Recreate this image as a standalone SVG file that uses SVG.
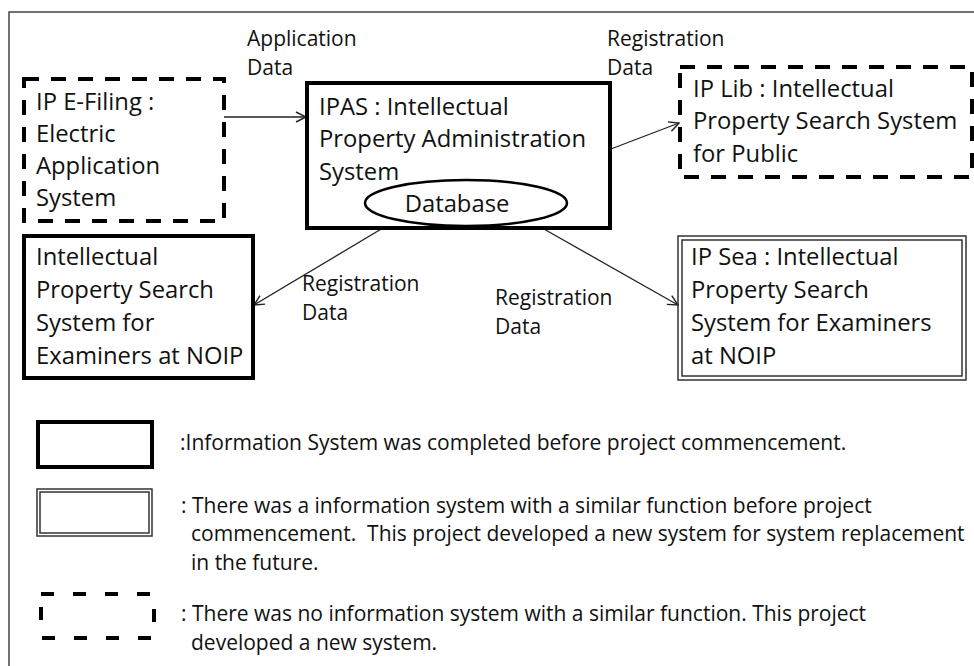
<svg xmlns="http://www.w3.org/2000/svg" width="974" height="666" viewBox="0 0 974 666">
<defs>
<style>
text{font-family:"Open Sans",Lato,"Liberation Sans",sans-serif;fill:#111}
.bt{font-size:23.8px}
.lb{font-size:21px}
.lg{font-size:21px}
.solid{fill:#fff;stroke:#000;stroke-width:4}
.dash{fill:none;stroke:#000;stroke-width:4;stroke-dasharray:15 12}
.dbl{fill:none;stroke:#333;stroke-width:1.5}
.conn{stroke:#222;stroke-width:1.3;fill:none;marker-end:url(#ah)}
</style>
<marker id="ah" viewBox="0 0 12 12" refX="11" refY="6" markerWidth="12" markerHeight="12" markerUnits="userSpaceOnUse" orient="auto">
<path d="M1,1 L11,6 L1,11" fill="none" stroke="#222" stroke-width="1.4"/>
</marker>
</defs>
<rect width="974" height="666" fill="#fff"/>
<path d="M9,666 V12 H974" fill="none" stroke="#444" stroke-width="1.5"/>

<g id="connectors">
<line class="conn" x1="224" y1="117" x2="306" y2="117"/>
<line class="conn" x1="527" y1="181" x2="679" y2="123"/>
<line class="conn" x1="393" y1="222" x2="254" y2="305"/>
<line class="conn" x1="528" y1="220" x2="678" y2="305"/>
</g>

<g id="labels">
<text class="lb" x="247" y="46">Application</text>
<text class="lb" x="247" y="75">Data</text>
<text class="lb" x="607" y="46">Registration</text>
<text class="lb" x="607" y="75">Data</text>
<text class="lb" x="302" y="291">Registration</text>
<text class="lb" x="302" y="320">Data</text>
<text class="lb" x="495" y="305">Registration</text>
<text class="lb" x="495" y="334">Data</text>
</g>

<g id="efiling">
<rect class="dash" x="24" y="79" width="200" height="142"/>
<text class="bt" x="36" y="110">IP E-Filing :</text>
<text class="bt" x="36" y="142">Electric</text>
<text class="bt" x="36" y="174">Application</text>
<text class="bt" x="36" y="206">System</text>
</g>

<g id="ipas">
<rect class="solid" x="307" y="83" width="303" height="145"/>
<text class="bt" x="319" y="115">IPAS : Intellectual</text>
<text class="bt" x="319" y="147">Property Administration</text>
<text class="bt" x="319" y="180">System</text>
</g>

<g id="database">
<ellipse cx="466" cy="203" rx="101" ry="23" fill="#fff" stroke="#000" stroke-width="2.5"/>
<text class="bt" x="457" y="212" text-anchor="middle">Database</text>
</g>

<g id="iplib">
<rect class="dash" x="680" y="67" width="292" height="110"/>
<text class="bt" x="693" y="97">IP Lib : Intellectual</text>
<text class="bt" x="693" y="129">Property Search System</text>
<text class="bt" x="693" y="162">for Public</text>
</g>

<g id="noip">
<rect class="solid" x="24" y="236" width="229" height="142"/>
<text class="bt" x="36" y="265">Intellectual</text>
<text class="bt" x="36" y="298">Property Search</text>
<text class="bt" x="36" y="331">System for</text>
<text class="bt" x="36" y="364">Examiners at NOIP</text>
</g>

<g id="ipsea">
<rect class="dbl" x="678" y="236" width="288" height="144"/>
<rect class="dbl" x="682" y="240" width="280" height="136"/>
<text class="bt" x="691" y="265">IP Sea : Intellectual</text>
<text class="bt" x="691" y="298">Property Search</text>
<text class="bt" x="691" y="331">System for Examiners</text>
<text class="bt" x="691" y="364">at NOIP</text>
</g>

<g id="legend">
<rect class="solid" x="38" y="422" width="114" height="45"/>
<rect class="dbl" x="37" y="489" width="115" height="47"/>
<rect class="dbl" x="40" y="492" width="109" height="41"/>
<rect x="41" y="594" width="113" height="44" fill="none" stroke="#000" stroke-width="4" stroke-dasharray="13 19"/>
<text class="lg" x="180" y="450">:Information System was completed before project commencement.</text>
<text class="lg" x="181" y="513">: There was a information system with a similar function before project</text>
<text class="lg" x="191" y="541" xml:space="preserve">commencement.  This project developed a new system for system replacement</text>
<text class="lg" x="191" y="570">in the future.</text>
<text class="lg" x="181" y="621">: There was no information system with a similar function. This project</text>
<text class="lg" x="191" y="650">developed a new system.</text>
</g>
</svg>
